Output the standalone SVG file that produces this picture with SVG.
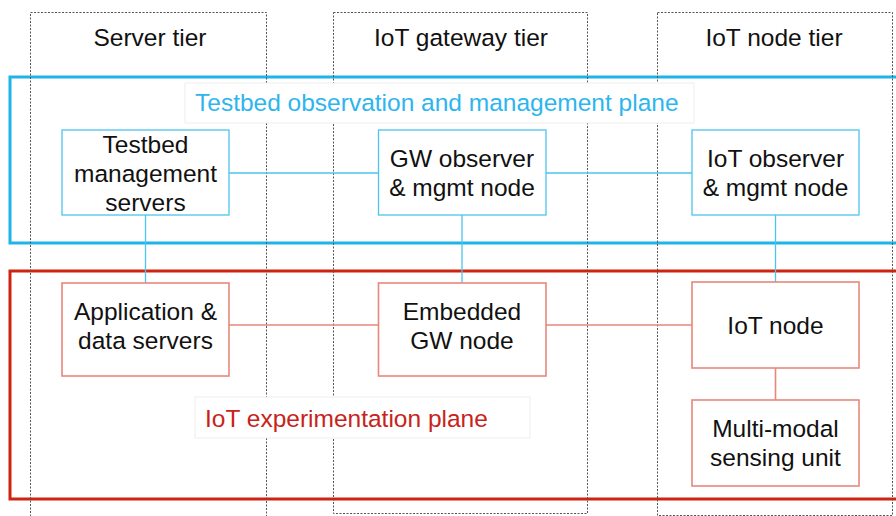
<svg xmlns="http://www.w3.org/2000/svg" width="896" height="516" viewBox="0 0 896 516">
<defs>
<style>
text{font-family:"Liberation Sans",Arial,sans-serif;font-size:24.5px;fill:#111;text-anchor:middle}
.col{fill:none;stroke:#555;stroke-width:1;stroke-dasharray:2,1.5}
.pb{fill:none;stroke:#1db4ea;stroke-width:3}
.pr{fill:none;stroke:#cf2312;stroke-width:3}
.nb{fill:#fff;stroke:#4cc4ee;stroke-width:1.3}
.nr{fill:#fff;stroke:#e8877b;stroke-width:1.6}
.cb{stroke:#4cc4ee;stroke-width:1.3;fill:none}
.cr{stroke:#e8877b;stroke-width:1.6;fill:none}
.lbl{fill:#fff;stroke:#eeeeee;stroke-width:1}
</style>
</defs>
<rect width="896" height="516" fill="#fff"/>
<g id="planes">
<rect class="pb" x="10" y="77" width="900" height="166"/>
<rect class="pr" x="10" y="271" width="900" height="228"/>
</g>
<g id="tiers">
<path class="col" d="M30.5,520 V12.5 H266.5 V520"/>
<rect class="col" x="333.5" y="12.5" width="254" height="501"/>
<rect class="col" x="657.5" y="12.5" width="235" height="503"/>
<text x="150" y="46">Server tier</text>
<text x="461" y="46">IoT gateway tier</text>
<text x="774" y="46">IoT node tier</text>
</g>
<g id="connectors">
<path class="cb" d="M229,173 H378 M546,173 H692 M145.5,215 V283 M462,215 V283 M775.5,215 V282"/>
<path class="cr" d="M229,325 H378 M546,325 H692 M775.5,368 V400"/>
</g>
<g id="n-testbed">
<rect class="nb" x="62" y="130" width="167" height="85"/>
<text x="145.5" y="153">Testbed</text>
<text x="145.5" y="182">management</text>
<text x="145.5" y="211">servers</text>
</g>
<g id="n-gwobs">
<rect class="nb" x="378.5" y="130" width="167.5" height="85"/>
<text x="462" y="167">GW observer</text>
<text x="462" y="196">&amp; mgmt node</text>
</g>
<g id="n-iotobs">
<rect class="nb" x="692" y="130" width="167" height="85"/>
<text x="775.5" y="167">IoT observer</text>
<text x="775.5" y="196">&amp; mgmt node</text>
</g>
<g id="n-app">
<rect class="nr" x="62" y="283" width="167" height="93"/>
<text x="145.5" y="320">Application &amp;</text>
<text x="145.5" y="349">data servers</text>
</g>
<g id="n-embgw">
<rect class="nr" x="378.5" y="283" width="167.5" height="93"/>
<text x="462" y="320">Embedded</text>
<text x="462" y="349">GW node</text>
</g>
<g id="n-iotnode">
<rect class="nr" x="692" y="282" width="167" height="86"/>
<text x="775.5" y="334">IoT node</text>
</g>
<g id="n-sensing">
<rect class="nr" x="692" y="400" width="167" height="86"/>
<text x="775.5" y="437">Multi-modal</text>
<text x="775.5" y="466">sensing unit</text>
</g>
<g id="plane-labels">
<rect class="lbl" x="185" y="83" width="509" height="40"/>
<text x="195" y="111" style="text-anchor:start;fill:#2db5ee">Testbed observation and management plane</text>
<rect class="lbl" x="195" y="397" width="335" height="41"/>
<text x="205" y="427" style="text-anchor:start;fill:#c8231b">IoT experimentation plane</text>
</g>
</svg>
